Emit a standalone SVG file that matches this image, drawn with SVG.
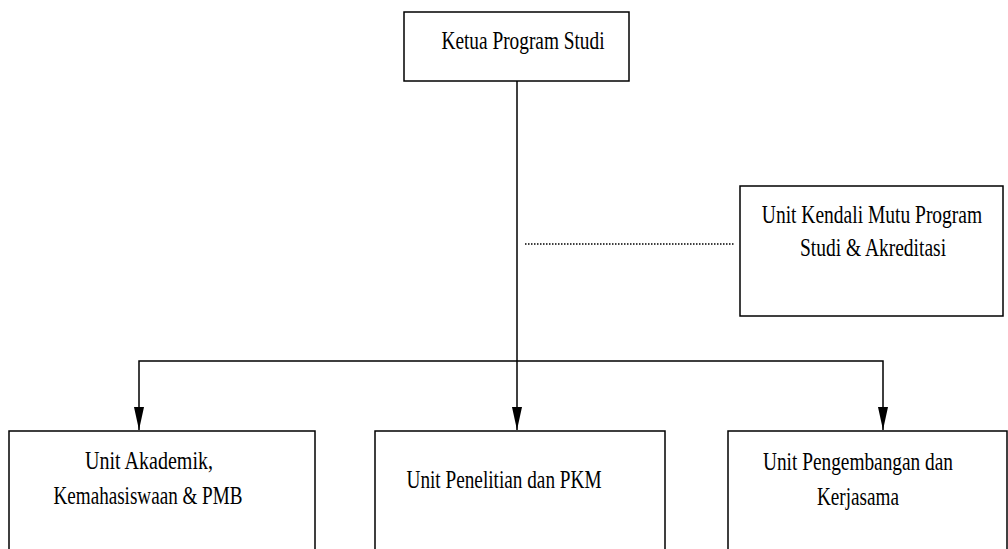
<svg xmlns="http://www.w3.org/2000/svg" width="1008" height="549" viewBox="0 0 1008 549">
<style>
.box{fill:#fff;stroke:#000;stroke-width:1.5}
.t{font-family:"Liberation Serif","Times New Roman",serif;font-size:25px;fill:#000;text-anchor:middle}
.ln{fill:none;stroke:#000;stroke-width:1.5}
.dot{fill:none;stroke:#000;stroke-width:1.5;stroke-dasharray:1.5 1.5}
</style>
<defs>
<marker id="arr" markerWidth="23" markerHeight="10" refX="23" refY="5" orient="auto-start-reverse" markerUnits="userSpaceOnUse" viewBox="0 0 23 10">
<path d="M0,0 L23,5 L0,10 Z" fill="#000"/>
</marker>
</defs>
<rect width="1008" height="549" fill="#fff"/>
<g id="connectors">
<line class="ln" x1="517" y1="81" x2="517" y2="430" marker-end="url(#arr)"/>
<polyline class="ln" points="139,430 139,361 883,361 883,430" marker-start="url(#arr)" marker-end="url(#arr)"/>
<line class="dot" x1="525" y1="244" x2="734" y2="244"/>
</g>
<g id="ketua">
<rect class="box" x="404" y="12" width="225" height="69"/>
<text class="t" x="523" y="49" textLength="163" lengthAdjust="spacingAndGlyphs">Ketua Program Studi</text>
</g>
<g id="mutu">
<rect class="box" x="740" y="186" width="263" height="130"/>
<text class="t" transform="translate(872,223) scale(0.78,1)" x="0" y="0">Unit Kendali Mutu Program</text>
<text class="t" transform="translate(873,256) scale(0.78,1)" x="0" y="0">Studi &amp; Akreditasi</text>
</g>
<g id="akademik">
<rect class="box" x="9" y="431" width="306" height="130"/>
<text class="t" x="149" y="469" textLength="128" lengthAdjust="spacingAndGlyphs">Unit Akademik,</text>
<text class="t" x="148" y="504" textLength="189" lengthAdjust="spacingAndGlyphs">Kemahasiswaan &amp; PMB</text>
</g>
<g id="penelitian">
<rect class="box" x="375" y="431" width="290" height="130"/>
<text class="t" x="504" y="488" textLength="195" lengthAdjust="spacingAndGlyphs">Unit Penelitian dan PKM</text>
</g>
<g id="pengembangan">
<rect class="box" x="728" y="431" width="279" height="130"/>
<text class="t" x="858" y="470" textLength="190" lengthAdjust="spacingAndGlyphs">Unit Pengembangan dan</text>
<text class="t" x="858" y="505" textLength="82" lengthAdjust="spacingAndGlyphs">Kerjasama</text>
</g>
</svg>
